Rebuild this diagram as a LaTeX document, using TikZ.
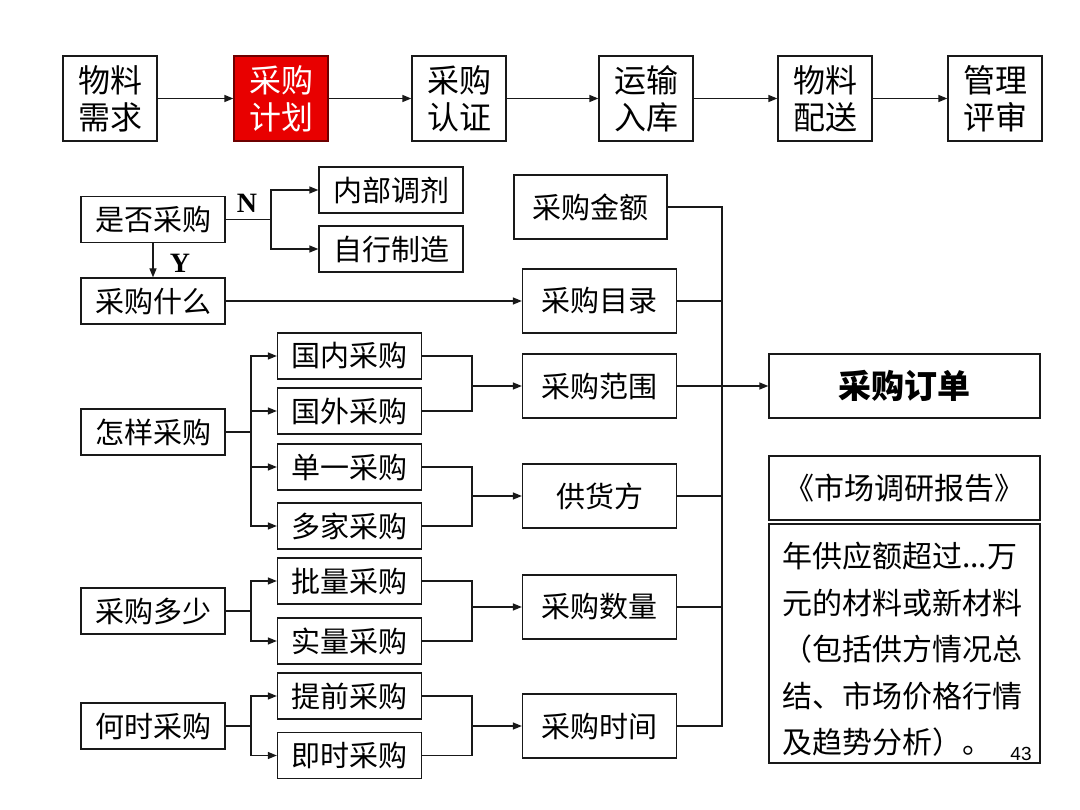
\documentclass[tikz,border=0pt]{standalone}
\usepackage{fontspec}
\setmainfont{Noto Sans CJK SC}
\newfontfamily\serifbf{Liberation Serif}
\newfontfamily\arialf{Liberation Sans}
\usetikzlibrary{arrows.meta}
\definecolor{planred}{RGB}{232,0,0}
\definecolor{planborder}{RGB}{110,0,0}
\definecolor{ink}{RGB}{25,25,25}
\tikzset{
  box/.style={draw=ink, line width=1.3pt, inner sep=0pt, text=black},
  topbox/.style={box, minimum width=94pt, minimum height=85pt, align=center,
    font=\fontsize{32}{37}\selectfont},
  lbox/.style={box, minimum width=144pt, minimum height=46pt,
    font=\fontsize{29}{34}\selectfont},
  rbox/.style={box, minimum width=154pt, minimum height=64pt,
    font=\fontsize{29}{34}\selectfont},
  wbox/.style={box, minimum width=271pt, minimum height=64pt},
  arr/.style={draw=ink, line width=1.3pt, -{Triangle[length=9pt,width=7pt]}},
  ln/.style={draw=ink, line width=1.3pt},
  yn/.style={font=\serifbf\bfseries\fontsize{28}{30}\selectfont, inner sep=0pt}
}
\begin{document}
\begin{tikzpicture}[x=1pt,y=-1pt]
\useasboundingbox[fill=white] (0,0) rectangle (1080,810);
% top row
\node[topbox] (t1) at (110,98.5) {物料\\需求};
\node[topbox, fill=planred, draw=planborder, text=white] (t2) at (281,98.5) {采购\\计划};
\node[topbox] (t3) at (459,98.5) {采购\\认证};
\node[topbox] (t4) at (646,98.5) {运输\\入库};
\node[topbox] (t5) at (825,98.5) {物料\\配送};
\node[topbox] (t6) at (995,98.5) {管理\\评审};
\draw[arr] (t1) -- (t2);
\draw[arr] (t2) -- (t3);
\draw[arr] (t3) -- (t4);
\draw[arr] (t4) -- (t5);
\draw[arr] (t5) -- (t6);
% left column
\node[lbox] (sf) at (153,219.5) {是否采购};
\node[lbox] (nbtj) at (391,190) {内部调剂};
\node[lbox] (zxzz) at (391,249) {自行制造};
\node[lbox] (sm) at (153,301) {采购什么};
\node[lbox] (zy) at (153,432) {怎样采购};
\node[lbox] (dsh) at (153,611) {采购多少};
\node[lbox] (hs) at (153,726) {何时采购};
% middle column
\node[lbox] (gn) at (349.5,356) {国内采购};
\node[lbox] (gw) at (349.5,411) {国外采购};
\node[lbox] (dy) at (349.5,467) {单一采购};
\node[lbox] (dj) at (349.5,526) {多家采购};
\node[lbox] (pl) at (349.5,581) {批量采购};
\node[lbox] (sl) at (349.5,641) {实量采购};
\node[lbox] (tq) at (349.5,696) {提前采购};
\node[lbox] (js) at (349.5,755.5) {即时采购};
% right-middle column
\node[rbox, minimum width=153pt] (je) at (590.5,207) {采购金额};
\node[rbox] (ml) at (599.5,301) {采购目录};
\node[rbox] (fw) at (599.5,386) {采购范围};
\node[rbox] (ghf) at (599.5,496) {供货方};
\node[rbox] (sl2) at (599.5,607) {采购数量};
\node[rbox] (sj) at (599.5,726) {采购时间};
% right column
\node[wbox, font=\bfseries\fontsize{33}{36}\selectfont] (dd) at (904.5,386) {采购订单};
\node[wbox, font=\fontsize{30}{34}\selectfont] (bg) at (904.5,488) {《市场调研报告》};
\node[box, minimum width=271pt, minimum height=239pt] (memo) at (904.5,643.5) {};
\node[anchor=north west, align=left, inner sep=0pt,
  font=\fontsize{30}{46.5}\selectfont] (memotext) at (782,542)
  {年供应额超过...万\\元的材料或新材料\\（包括供方情况总\\结、市场价格行情\\及趋势分析）。};
\node[font=\arialf\fontsize{19}{20}\selectfont, inner sep=0pt] (pagenum) at (1021,754) {43};
% yes / no
\coordinate (nb) at (271,219.5);
\draw[ln] (sf.east) -- (nb);
\draw[arr] (nb) |- (nbtj.west);
\draw[arr] (nb) |- (zxzz.west);
\node[yn] (nlab) at (247,203) {N};
\draw[arr] (sf.south) -- (sm.north);
\node[yn] (ylab) at (180,263) {Y};
\draw[arr] (sm.east) -- (ml.west);
% how
\coordinate (b1) at (251,432);
\draw[ln] (zy.east) -- (b1);
\draw[arr] (b1) |- (gn.west);
\draw[arr] (b1) |- (gw.west);
\draw[arr] (b1) |- (dy.west);
\draw[arr] (b1) |- (dj.west);
\coordinate (m1) at (472,386);
\draw[ln] (gn.east) -| (m1);
\draw[ln] (gw.east) -| (m1);
\draw[arr] (m1) -- (fw.west);
\coordinate (m2) at (472,496);
\draw[ln] (dy.east) -| (m2);
\draw[ln] (dj.east) -| (m2);
\draw[arr] (m2) -- (ghf.west);
% how many
\coordinate (b3) at (251,611);
\draw[ln] (dsh.east) -- (b3);
\draw[arr] (b3) |- (pl.west);
\draw[arr] (b3) |- (sl.west);
\coordinate (m3) at (472,607);
\draw[ln] (pl.east) -| (m3);
\draw[ln] (sl.east) -| (m3);
\draw[arr] (m3) -- (sl2.west);
% when
\coordinate (b4) at (251,726);
\draw[ln] (hs.east) -- (b4);
\draw[arr] (b4) |- (tq.west);
\draw[arr] (b4) |- (js.west);
\coordinate (m4) at (472,726);
\draw[ln] (tq.east) -| (m4);
\draw[ln] (js.east) -| (m4);
\draw[arr] (m4) -- (sj.west);
% bus
\coordinate (bt) at (722,207);
\coordinate (bb) at (722,726);
\draw[ln] (je.east) -- (bt) -- (bb) -- (sj.east);
\draw[ln] (ml.east) -- (ml.east -| bt);
\draw[ln] (ghf.east) -- (ghf.east -| bt);
\draw[ln] (sl2.east) -- (sl2.east -| bt);
\draw[arr] (fw.east) -- (dd.west);
\end{tikzpicture}
\end{document}
